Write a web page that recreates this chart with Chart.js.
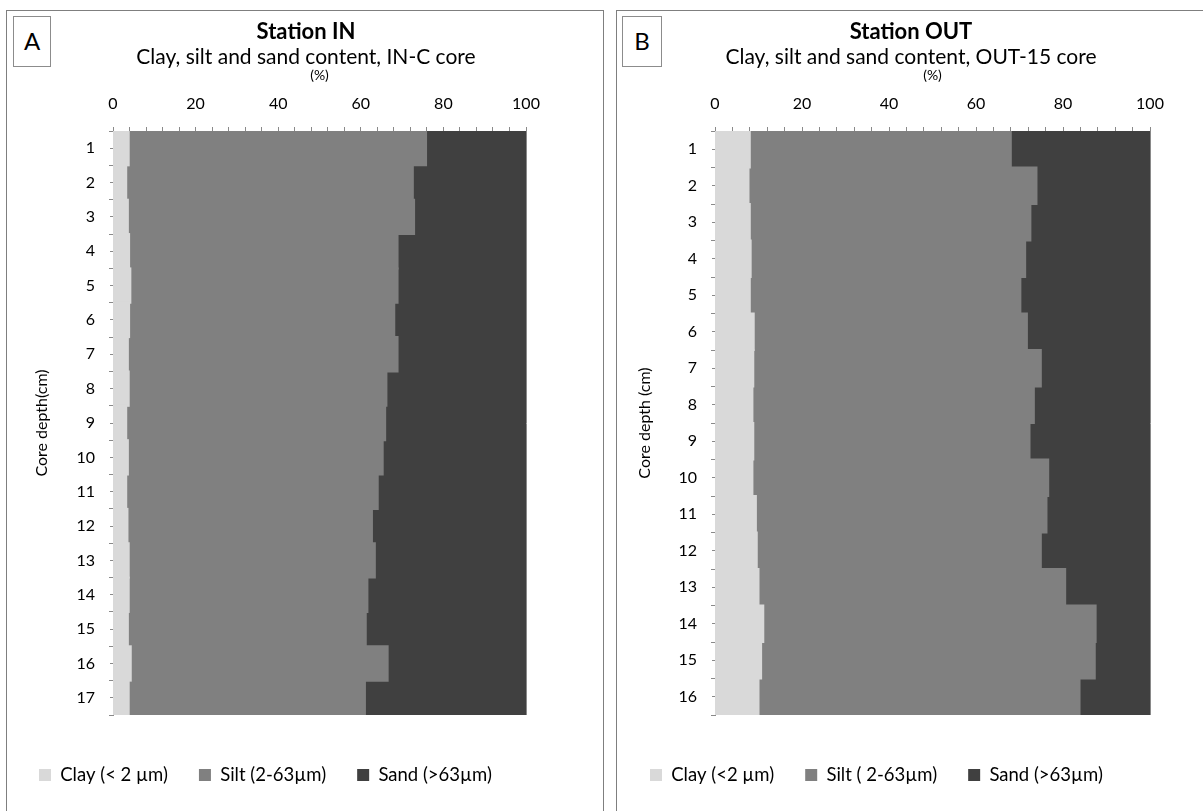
<!DOCTYPE html>
<html>
<head>
<meta charset="utf-8">
<script src="https://cdn.jsdelivr.net/npm/chart.js@4.4.1/dist/chart.umd.min.js"></script>
<style>
  html, body { margin: 0; padding: 0; background: #fff; }
  body { position: relative; width: 1203px; height: 811px; overflow: hidden; font-family: Lato, sans-serif; }
  .panel { position: absolute; box-sizing: border-box; border: 1px solid #7f7f7f; background: #fff; }
  .tag { position: absolute; box-sizing: border-box; border: 1px solid #8c8c8c; background: #fff;
         font-size: 24px; color: #000; text-align: center; line-height: 48px; z-index: 2; }
  canvas { position: absolute; top: 0; z-index: 1; }
</style>
</head>
<body>
<div class="panel" style="left:6px;top:10px;width:598px;height:830px"></div>
<div class="panel" style="left:616px;top:10px;width:620px;height:830px"></div>
<div class="tag" style="left:13px;top:16px;width:38px;height:51px">A</div>
<div class="tag" style="left:622px;top:16px;width:40px;height:51px">B</div>
<canvas id="chartA" width="599" height="811" style="left:5px"></canvas>
<canvas id="chartB" width="587" height="811" style="left:616px"></canvas>
<script>
// ---- Station IN (IN-C core) ----
const depthsA = ['1','2','3','4','5','6','7','8','9','10','11','12','13','14','15','16','17'];
const clayA = [3.8, 3.2, 3.6, 3.9, 4.2, 3.9, 3.6, 3.8, 3.2, 3.6, 3.2, 3.5, 3.8, 3.8, 3.6, 4.3, 3.8];
const siltA = [72.0, 69.4, 69.3, 65.0, 64.7, 64.2, 65.3, 62.4, 62.7, 61.7, 60.9, 59.2, 59.6, 57.8, 57.6, 62.2, 57.2];
const sandA = [24.2, 27.4, 27.1, 31.1, 31.1, 31.9, 31.1, 33.8, 34.1, 34.7, 35.9, 37.3, 36.6, 38.4, 38.8, 33.5, 39.0];
const legendA = ['Clay (< 2 µm)', 'Silt (2-63µm)', 'Sand (>63µm)'];

// ---- Station OUT (OUT-15 core) ----
const depthsB = ['1','2','3','4','5','6','7','8','9','10','11','12','13','14','15','16'];
const clayB = [8.0, 7.7, 8.0, 8.2, 8.0, 8.9, 8.8, 8.6, 8.8, 8.6, 9.4, 9.6, 10.0, 11.1, 10.6, 10.0];
const siltB = [60.0, 66.2, 64.5, 63.1, 62.2, 62.8, 66.1, 64.7, 63.5, 68.0, 66.8, 65.3, 70.5, 76.4, 76.7, 73.8];
const sandB = [32.0, 26.1, 27.5, 28.7, 29.8, 28.3, 25.1, 26.7, 27.7, 23.4, 23.8, 25.1, 19.5, 12.5, 12.7, 16.2];
const legendB = ['Clay (<2 µm)', 'Silt ( 2-63µm)', 'Sand (>63µm)'];

const xTicks = [0, 20, 40, 60, 80, 100];
const colors = ['#d9d9d9', '#808080', '#404040'];
const GRAY = '#898989';

Chart.defaults.font.family = 'Lato, "Open Sans", sans-serif';
Chart.defaults.color = '#000';

function makeChart(id, o) {
  const ctx = document.getElementById(id).getContext('2d');
  const series = [o.clay, o.silt, o.sand];
  return new Chart(ctx, {
    type: 'bar',
    data: {
      labels: o.labels,
      datasets: series.map((d, i) => ({
        label: o.names[i], data: d, backgroundColor: colors[i], borderWidth: 0,
        barPercentage: 1, categoryPercentage: 1, inflateAmount: 1, xAxisID: 'x', yAxisID: 'y'
      }))
    },
    options: {
      indexAxis: 'y',
      responsive: false,
      animation: false,
      layout: { padding: { left: 3, right: 0, top: 0, bottom: 16.75 } },
      plugins: {
        title: { display: true, text: o.title, font: { size: 22, weight: 'bold', lineHeight: 1 }, padding: { top: 21, bottom: 0 } },
        subtitle: { display: true, text: o.subtitle, font: { size: 21, lineHeight: 1 }, padding: { top: 3.5, bottom: 0 }, color: '#000' },
        legend: {
          position: 'bottom', align: 'start',
          title: { display: true, text: ' ', font: { size: 10, lineHeight: 1 }, padding: { top: 9.75, bottom: 0 } },
          labels: { font: { size: 18.5 }, boxWidth: 12, boxHeight: 12, padding: 31, color: '#000' }
        },
        tooltip: { enabled: false }
      },
      scales: {
        x: {
          type: 'linear', position: 'top', stacked: true, min: 0, max: 100, z: 1,
          ticks: {
            stepSize: 4, autoSkip: false, maxRotation: 0, padding: 14, font: { size: 16 },
            callback: v => xTicks.includes(Math.round(v)) ? Math.round(v) : ''
          },
          grid: {
            color: c => (c.tick && Math.round(c.tick.value) === 100) ? GRAY : 'rgba(0,0,0,0)',
            tickColor: GRAY, tickLength: 4
          },
          border: { color: GRAY },
          title: { display: true, text: '(%)', font: { size: 14, lineHeight: 1 }, padding: { top: 1, bottom: 0 } },
          afterFit: s => { s.height = 63.5; }
        },
        y: {
          type: 'category', position: 'left', stacked: true, offset: true, weight: 1,
          grid: { offset: true, drawOnChartArea: false, tickLength: 4, tickColor: GRAY },
          border: { color: GRAY },
          ticks: { padding: 14, font: { size: 16 }, autoSkip: false },
          title: { display: true, text: o.yTitle, font: { size: 16 }, padding: { top: o.yTitlePad, bottom: 0 } },
          afterFit: s => { s.width = o.yWidth; }
        },
        // minor ticks at row centres
        yMinor: {
          type: 'category', labels: o.labels, position: 'left', offset: true, weight: 0,
          grid: { offset: false, drawOnChartArea: false, tickLength: 3, tickColor: GRAY },
          border: { display: false }, ticks: { display: false },
          afterFit: s => { s.width = 0; }
        },
        // empty space right of the plot
        yPad: {
          type: 'category', labels: o.labels, position: 'right', offset: true,
          grid: { display: false }, border: { display: false }, ticks: { display: false },
          afterFit: s => { s.width = o.rightPad; }
        }
      }
    }
  });
}

makeChart('chartA', {
  labels: depthsA, clay: clayA, silt: siltA, sand: sandA, names: legendA,
  title: 'Station IN', subtitle: 'Clay, silt and sand content, IN-C core',
  yTitle: 'Core depth(cm)', yWidth: 105, yTitlePad: 24, rightPad: 78
});

makeChart('chartB', {
  labels: depthsB, clay: clayB, silt: siltB, sand: sandB, names: legendB,
  title: 'Station OUT', subtitle: 'Clay, silt and sand content, OUT-15 core',
  yTitle: 'Core depth (cm)', yWidth: 96, yTitlePad: 16, rightPad: 53
});
</script>
</body>
</html>
